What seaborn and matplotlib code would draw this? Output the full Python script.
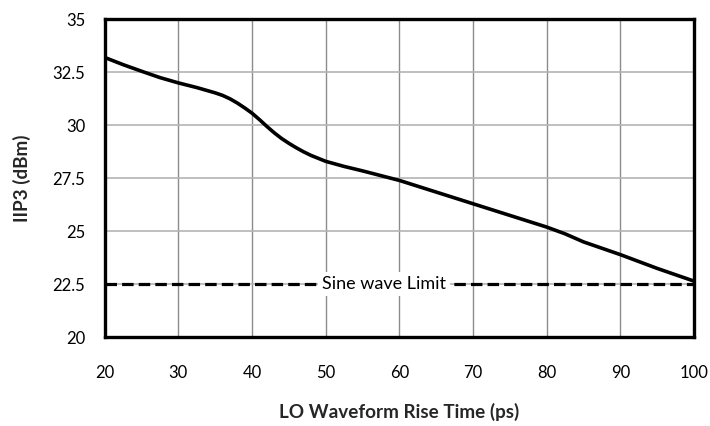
import matplotlib
matplotlib.use("Agg")
import matplotlib.pyplot as plt
import seaborn as sns
import pandas as pd

# IIP3 versus LO waveform rise time
rise_time_ps = [20, 22.5, 25, 27.5, 30, 32.5, 35, 36, 37, 38, 39, 40, 41, 42,
                43, 44, 45, 46, 47, 48, 50, 52.5, 55, 60, 65, 70, 75, 80,
                82.5, 85, 90, 95, 100]
iip3_dbm = [33.2, 32.86, 32.55, 32.25, 32.0, 31.78, 31.53, 31.41, 31.25,
            31.05, 30.82, 30.57, 30.27, 29.95, 29.65, 29.38, 29.15, 28.94,
            28.75, 28.58, 28.3, 28.06, 27.85, 27.4, 26.85, 26.3, 25.75,
            25.2, 24.88, 24.5, 23.9, 23.25, 22.65]

sine_limit_dbm = 22.5
sine_label = "Sine wave Limit"

x_ticks = [20, 30, 40, 50, 60, 70, 80, 90, 100]
y_ticks = [20, 22.5, 25, 27.5, 30, 32.5, 35]
y_tick_labels = ["20", "22.5", "25", "27.5", "30", "32.5", "35"]

df = pd.DataFrame({"rise": rise_time_ps, "iip3": iip3_dbm})

sns.set_theme(style="white")
plt.rcParams["font.family"] = ["Lato", "DejaVu Sans"]

fig = plt.figure(figsize=(7.10, 4.26), dpi=100)
ax = fig.add_axes([0.1475, 0.2082, 0.83, 0.7465])

# grid
for xv in x_ticks[1:-1]:
    ax.axvline(xv, color="#8c8c8c", lw=1.0, zorder=0)
for yv in y_ticks[1:-1]:
    ax.axhline(yv, color="#b4b4b4", lw=1.2, zorder=0)

# sine-wave reference
ax.axhline(sine_limit_dbm, color="black", lw=2.3, ls=(0, (3.6, 1.6)), zorder=2)
ax.text(57.9, sine_limit_dbm, sine_label, ha="center", va="center",
        fontsize=13, color="black", zorder=3,
        bbox=dict(facecolor="white", edgecolor="none", pad=3))

sns.lineplot(data=df, x="rise", y="iip3", ax=ax, color="black", lw=2.6,
             zorder=4)
ax.lines[-1].set_solid_joinstyle("round")

ax.set_xlim(20, 100)
ax.set_ylim(20, 35)
ax.set_xticks(x_ticks)
ax.set_yticks(y_ticks)
ax.set_yticklabels(y_tick_labels)
ax.tick_params(axis="both", length=0, labelsize=12, colors="black")
ax.tick_params(axis="x", pad=20)
ax.tick_params(axis="y", pad=14)

for s in ax.spines.values():
    s.set_color("black")
    s.set_linewidth(2.4)
    s.set_zorder(5)

ax.set_xlabel("LO Waveform Rise Time (ps)", fontsize=13.6, fontweight="bold")
ax.xaxis.set_label_coords(0.5, -0.235)
ax.xaxis.label.set_va("center")
ax.set_ylabel("IIP3 (dBm)", fontsize=13.6, fontweight="bold")
ax.yaxis.set_label_coords(-0.14, 0.5)
ax.yaxis.label.set_va("center")

fig.savefig("out.png", dpi=100, facecolor="white")
